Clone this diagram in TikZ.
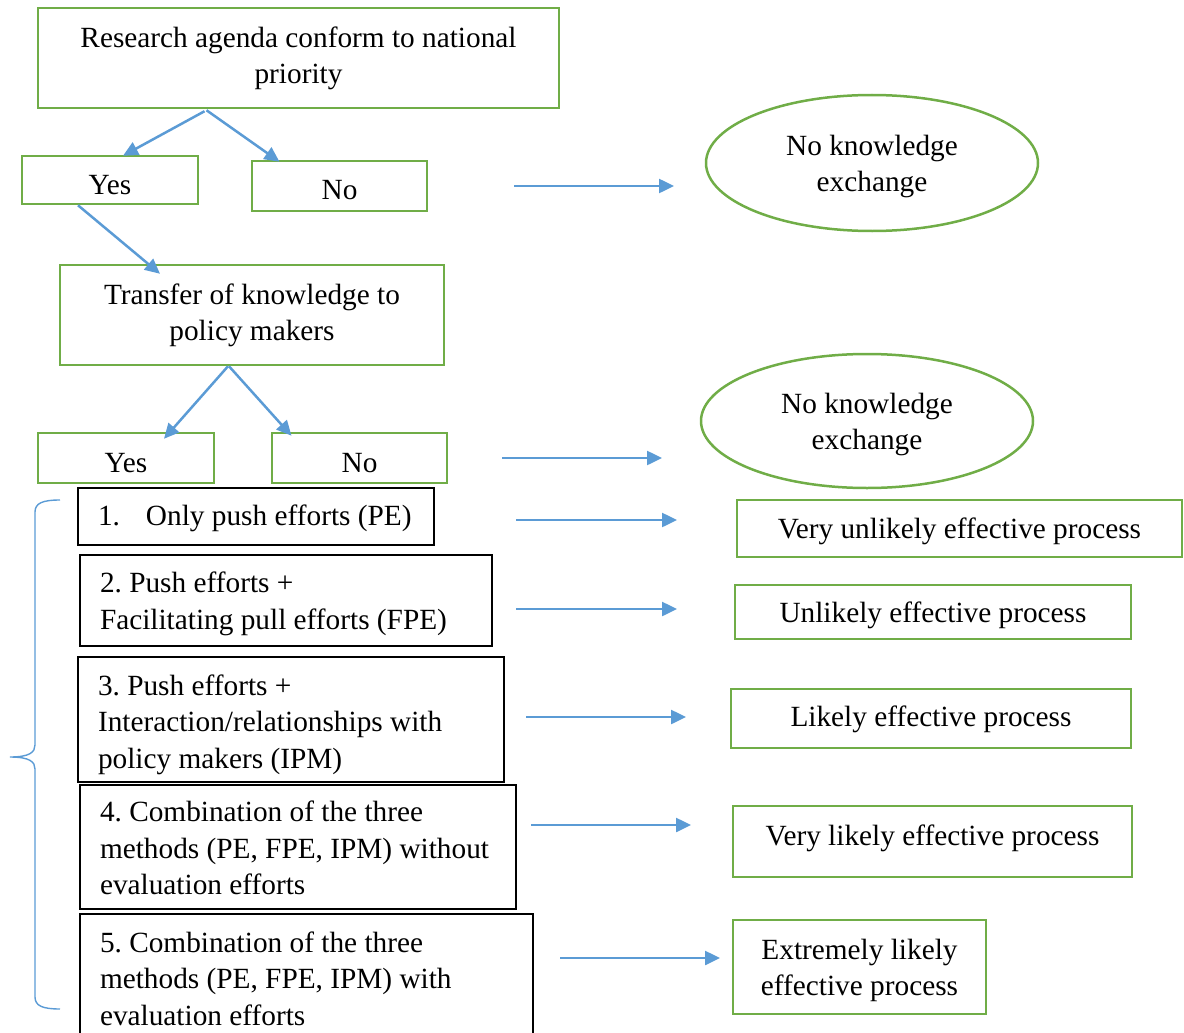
\documentclass[tikz,border=0pt]{standalone}
\usepackage{fontspec}
\setmainfont{Liberation Serif}
\usetikzlibrary{shapes.geometric,arrows.meta}
\definecolor{gboxc}{HTML}{70AD47}
\definecolor{barrow}{HTML}{5B9BD5}

% shift content vertically by #1 while keeping its reported height and depth
\newcommand{\nudge}[2]{\raisebox{#1}[\height][\depth]{#2}}
% centred lines, nudged vertically by #1
\newcommand{\midlines}[2]{\nudge{#1}{\begin{tabular}{@{}c@{}}#2\end{tabular}}}
% left-aligned lines in a field of width #1, nudged vertically by #2
\newcommand{\leftlines}[3]{\nudge{#2}{\makebox[#1][l]{\begin{tabular}{@{}l@{}}#3\end{tabular}}}}

\begin{document}
\begin{tikzpicture}[x=1pt,y=-1pt,
  every node/.style={font=\fontsize{29.3}{36.5}\selectfont\frenchspacing, inner sep=0pt},
  gbox/.style={draw=gboxc, line width=2.5pt},
  kbox/.style={draw=black, line width=1.1pt, inner xsep=20pt},
  oval/.style={ellipse, draw=gboxc, line width=2.5pt},
  arr/.style={draw=barrow, line width=2.5pt, -{Triangle[length=15pt,width=14pt]}},
  brace/.style={draw=barrow, line width=1.4pt},
]
\useasboundingbox (0,0) rectangle (1184,1033);

% decision chain
\node[gbox, minimum width=521pt, minimum height=100pt] (top) at (298.5,58)
  {\midlines{0pt}{Research agenda conform to national\\priority}};
\node[gbox, minimum width=176pt, minimum height=48pt] (yes1) at (110,180) {\nudge{-5pt}{Yes}};
\node[gbox, minimum width=175pt, minimum height=50pt] (no1) at (339.5,186) {\nudge{-4pt}{No}};
\node[oval, minimum width=332pt, minimum height=136pt] (ex1) at (872,163)
  {\midlines{-3pt}{No knowledge\\exchange}};
\node[gbox, minimum width=384pt, minimum height=100pt] (transfer) at (252,315)
  {\midlines{0pt}{Transfer of knowledge to\\policy makers}};
\node[gbox, minimum width=176pt, minimum height=50pt] (yes2) at (126,458) {\nudge{-5pt}{Yes}};
\node[gbox, minimum width=175pt, minimum height=50pt] (no2) at (359.5,458) {\nudge{-5pt}{No}};
\node[oval, minimum width=332pt, minimum height=134pt] (ex2) at (867,421)
  {\midlines{-3pt}{No knowledge\\exchange}};

% knowledge exchange methods
\node[kbox, minimum width=356pt, minimum height=57pt] (m1) at (256,516.5)
  {\leftlines{316pt}{-2pt}{\makebox[48pt][l]{1.}Only push efforts (PE)}};
\node[kbox, minimum width=412pt, minimum height=91pt] (m2) at (286,600.5)
  {\leftlines{372pt}{-3pt}{2. Push efforts +\\Facilitating pull efforts (FPE)}};
\node[kbox, minimum width=426pt, minimum height=125pt] (m3) at (291,719.5)
  {\leftlines{386pt}{-5pt}{3. Push efforts +\\Interaction/relationships with\\policy makers (IPM)}};
\node[kbox, minimum width=436pt, minimum height=124pt] (m4) at (298,847)
  {\leftlines{396pt}{-4pt}{4. Combination of the three\\methods (PE, FPE, IPM) without\\evaluation efforts}};
\node[kbox, minimum width=453pt, minimum height=131pt] (m5) at (306.5,979.5)
  {\leftlines{413pt}{-2pt}{5. Combination of the three\\methods (PE, FPE, IPM) with\\evaluation efforts}};

% outcomes
\node[gbox, minimum width=445pt, minimum height=57pt] (r1) at (959.5,528.5)
  {\nudge{-3pt}{Very unlikely effective process}};
\node[gbox, minimum width=396pt, minimum height=54pt] (r2) at (933,612)
  {\nudge{-3pt}{Unlikely effective process}};
\node[gbox, minimum width=400pt, minimum height=59pt] (r3) at (931,718.5)
  {\nudge{-1pt}{Likely effective process}};
\node[gbox, minimum width=399pt, minimum height=71pt] (r4) at (932.5,841.5)
  {\nudge{3pt}{Very likely effective process}};
\node[gbox, minimum width=253pt, minimum height=94pt] (r5) at (859.5,967)
  {\midlines{-3pt}{Extremely likely\\effective process}};

% branching arrows
\draw[arr] ([xshift=-94pt,yshift=-2pt]top.south) -- ([xshift=13pt,yshift=-1pt]yes1.north);
\draw[arr] ([xshift=-92pt,yshift=-1pt]top.south) -- ([xshift=-60pt,yshift=-2pt]no1.north);
\draw[arr] ([xshift=-32pt]yes1.south) -- ([xshift=-92pt,yshift=-10pt]transfer.north);
\draw[arr] ([xshift=-24pt]transfer.south) -- ([xshift=38pt,yshift=-7pt]yes2.north);
\draw[arr] ([xshift=-23pt]transfer.south) -- ([xshift=-68pt,yshift=-4pt]no2.north);

% free-standing horizontal arrows
\coordinate (h1s) at (514,186); \coordinate (h1e) at (674,186);
\coordinate (h2s) at (502,458); \coordinate (h2e) at (662,458);
\coordinate (h3s) at (516,520); \coordinate (h3e) at (677,520);
\coordinate (h4s) at (516,609); \coordinate (h4e) at (677,609);
\coordinate (h5s) at (526,717); \coordinate (h5e) at (686,717);
\coordinate (h6s) at (531,825); \coordinate (h6e) at (691,825);
\coordinate (h7s) at (560,958); \coordinate (h7e) at (720,958);
\foreach \i in {1,...,7} \draw[arr] (h\i s) -- (h\i e);

% brace grouping the five methods
\draw[brace] (60,500) .. controls (43,500) and (35,503) .. (35,512)
  -- (35,745) .. controls (35,752) and (30,757) .. (10,757)
  .. controls (30,757) and (35,762) .. (35,769)
  -- (35,997) .. controls (35,1006) and (43,1009) .. (60,1009);
\end{tikzpicture}
\end{document}
